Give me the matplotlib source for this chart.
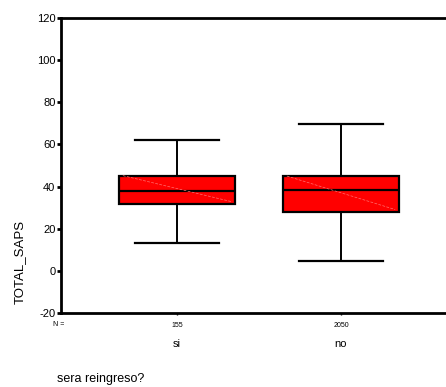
#!/usr/bin/env python3

import matplotlib

matplotlib.use("Agg")

import matplotlib.pyplot as plt
import matplotlib.transforms as mtransforms

plt.rcParams["font.family"] = ["Liberation Sans", "DejaVu Sans"]

categories = ["si", "no"]
counts = [155, 2050]
whisker_low = [13.0, 4.6]
q1 = [31.9, 28.1]
medians = [38.0, 38.2]
q3 = [45.2, 45.0]
whisker_high = [62.3, 69.8]

y_ticks = [-20, 0, 20, 40, 60, 80, 100, 120]


def main() -> None:
    fig = plt.figure(figsize=(4.46, 3.87), dpi=100)
    ax = fig.add_axes([0.1368, 0.1912, 0.8632, 0.7623])

    stats = []
    for i, name in enumerate(categories):
        stats.append(
            {
                "label": name,
                "whislo": whisker_low[i],
                "q1": q1[i],
                "med": medians[i],
                "q3": q3[i],
                "whishi": whisker_high[i],
                "fliers": [],
            }
        )

    positions = list(range(1, len(categories) + 1))

    ax.bxp(
        stats,
        positions=positions,
        widths=0.71,
        capwidths=0.51,
        patch_artist=True,
        showfliers=False,
        boxprops={"facecolor": "#ff0000", "edgecolor": "black", "linewidth": 1.6},
        medianprops={"color": "black", "linewidth": 1.6},
        whiskerprops={"color": "black", "linewidth": 1.4},
        capprops={"color": "black", "linewidth": 1.6},
        zorder=3,
    )

    # faint diagonal streak across each box, as in the original render
    for pos, lo, hi in zip(positions, q1, q3):
        ax.plot(
            [pos - 0.33, pos + 0.33],
            [hi, lo + 1],
            color="#ff7070",
            linewidth=0.5,
            linestyle=(0, (4, 2)),
            zorder=4,
        )

    ax.set_xlim(0.293, 2.64)
    ax.set_ylim(-20, 120)

    ax.set_yticks(y_ticks)
    ax.set_yticklabels([str(v) for v in y_ticks], fontsize=8)
    ax.tick_params(axis="y", direction="out", length=3, width=2, pad=1)

    ax.set_xticks(positions)
    ax.set_xticklabels([str(n) for n in counts], fontsize=5)
    ax.tick_params(axis="x", direction="out", length=1.5, width=1, pad=5)

    trans = mtransforms.blended_transform_factory(ax.transData, ax.transAxes)
    for pos, name in zip(positions, categories):
        ax.text(pos, -0.104, name, transform=trans, ha="center", va="center", fontsize=8)

    fig.text(59 / 446, 1 - 324.5 / 387, "N =", ha="center", va="center", fontsize=5)

    for side in ["left", "top", "bottom"]:
        ax.spines[side].set_linewidth(2)
    ax.spines["right"].set_visible(False)

    fig.text(20 / 446, 1 - 262 / 387, "TOTAL_SAPS", rotation=90,
             ha="center", va="center", fontsize=9.5)
    fig.text(57 / 446, 1 - 379 / 387, "sera reingreso?", ha="left",
             va="center", fontsize=9)

    fig.savefig("out.png", dpi=100)
    plt.close(fig)


if __name__ == "__main__":
    main()
